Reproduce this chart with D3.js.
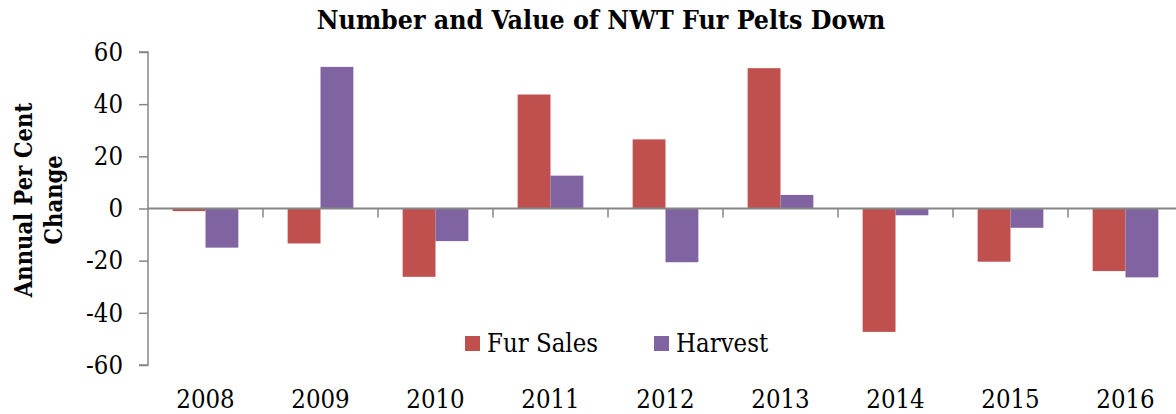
<!DOCTYPE html>
<html>
<head>
<meta charset="utf-8">
<script src="https://cdn.jsdelivr.net/npm/d3@7"></script>
<style>
  body { margin: 0; background: #fff; }
  text { font-family: "DejaVu Serif Condensed", "DejaVu Serif", serif; fill: #000; }
</style>
</head>
<body>
<script>
var years = ["2008", "2009", "2010", "2011", "2012", "2013", "2014", "2015", "2016"];
var seriesNames = ["Fur Sales", "Harvest"];
var furSales = [-1, -13.4, -26.2, 43.7, 26.5, 53.8, -47.3, -20.4, -24.0];
var harvest = [-15, 54.3, -12.5, 12.6, -20.6, 5.2, -2.6, -7.4, -26.4];
var yTicks = [-60, -40, -20, 0, 20, 40, 60];
var colors = ["#C0504D", "#8064A2"];

var width = 1176, height = 414;
var fontFam = "DejaVu Serif Condensed";

var svg = d3.select("body")
  .append("svg")
  .attr("width", width)
  .attr("height", height);

var x = d3.scaleBand().domain(years).range([148, 1183]).padding(0);
var x1 = d3.scaleBand().domain(seriesNames).range([0, x.bandwidth()])
  .paddingInner(0).paddingOuter(0.75);
var y = d3.scaleLinear().domain([-60, 60]).range([365, 52]);

var rows = years.map(function(yr, i){
  return {year: yr, values: [furSales[i], harvest[i]]};
});

// bars
var groups = svg.selectAll("g.year").data(rows).enter().append("g")
  .attr("class", "year")
  .attr("transform", function(d){ return "translate(" + x(d.year) + ",0)"; });

groups.selectAll("rect").data(function(d){
    return d.values.map(function(v, j){ return {name: seriesNames[j], v: v, c: colors[j]}; });
  }).enter().append("rect")
  .attr("x", function(d){ return x1(d.name); })
  .attr("width", x1.bandwidth())
  .attr("y", function(d){ return y(Math.max(0, d.v)); })
  .attr("height", function(d){ return Math.abs(y(d.v) - y(0)); })
  .style("fill", function(d){ return d.c; });

// y axis
var yAxis = d3.axisLeft(y).tickValues(yTicks).tickSize(9).tickPadding(16)
  .tickFormat(function(d){ return String(d); });
var gy = svg.append("g").attr("transform", "translate(148,0)").call(yAxis);
gy.select(".domain").attr("stroke", "#868686").attr("stroke-width", 1.5)
  .attr("d", "M-9," + y(60) + "H0V" + y(-60) + "H-9");
gy.selectAll(".tick line").attr("stroke", "#868686").attr("stroke-width", 1.5);
gy.selectAll(".tick text").style("font-family", fontFam).style("font-size", "25.5px")
  .attr("fill", "#000");

// x axis at zero
var xAxis = d3.axisBottom(x).tickSize(0).tickFormat("");
var gx = svg.append("g").attr("transform", "translate(0," + y(0) + ")").call(xAxis);
gx.select(".domain").attr("stroke", "#868686").attr("stroke-width", 2)
  .attr("d", "M" + x.range()[0] + ",0H" + x.range()[1]);
gx.selectAll(".tick").remove();

// category separators
svg.selectAll("line.sep").data(years.slice(1)).enter().append("line")
  .attr("class", "sep")
  .attr("x1", function(d){ return x(d); })
  .attr("x2", function(d){ return x(d); })
  .attr("y1", y(0)).attr("y2", y(0) + 9)
  .attr("stroke", "#868686").attr("stroke-width", 1.5);

// year labels at bottom
svg.selectAll("text.yr").data(years).enter().append("text")
  .attr("class", "yr")
  .attr("x", function(d){ return x(d) + x.bandwidth() / 2; })
  .attr("y", 408)
  .attr("text-anchor", "middle")
  .style("font-size", "25.5px")
  .text(function(d){ return d; });

// title
svg.append("text")
  .attr("x", 601).attr("y", 29)
  .attr("text-anchor", "middle")
  .style("font-size", "26.5px").style("font-weight", "bold")
  .text("Number and Value of NWT Fur Pelts Down");

// y axis title
var yt = svg.append("text")
  .attr("transform", "translate(0,200) rotate(-90)")
  .attr("text-anchor", "middle")
  .style("font-size", "23.5px").style("font-weight", "bold");
yt.append("tspan").attr("x", 0).attr("y", 32).text("Annual Per Cent");
yt.append("tspan").attr("x", 0).attr("y", 62).text("Change");

// legend
var legX = [465, 654];
var leg = svg.selectAll("g.leg").data(seriesNames).enter().append("g")
  .attr("class", "leg")
  .attr("transform", function(d, i){ return "translate(" + legX[i] + ",336)"; });
leg.append("rect").attr("width", 15).attr("height", 15)
  .style("fill", function(d, i){ return colors[i]; });
leg.append("text").attr("x", 22).attr("y", 16)
  .style("font-size", "25.5px")
  .text(function(d){ return d; });
</script>
</body>
</html>
